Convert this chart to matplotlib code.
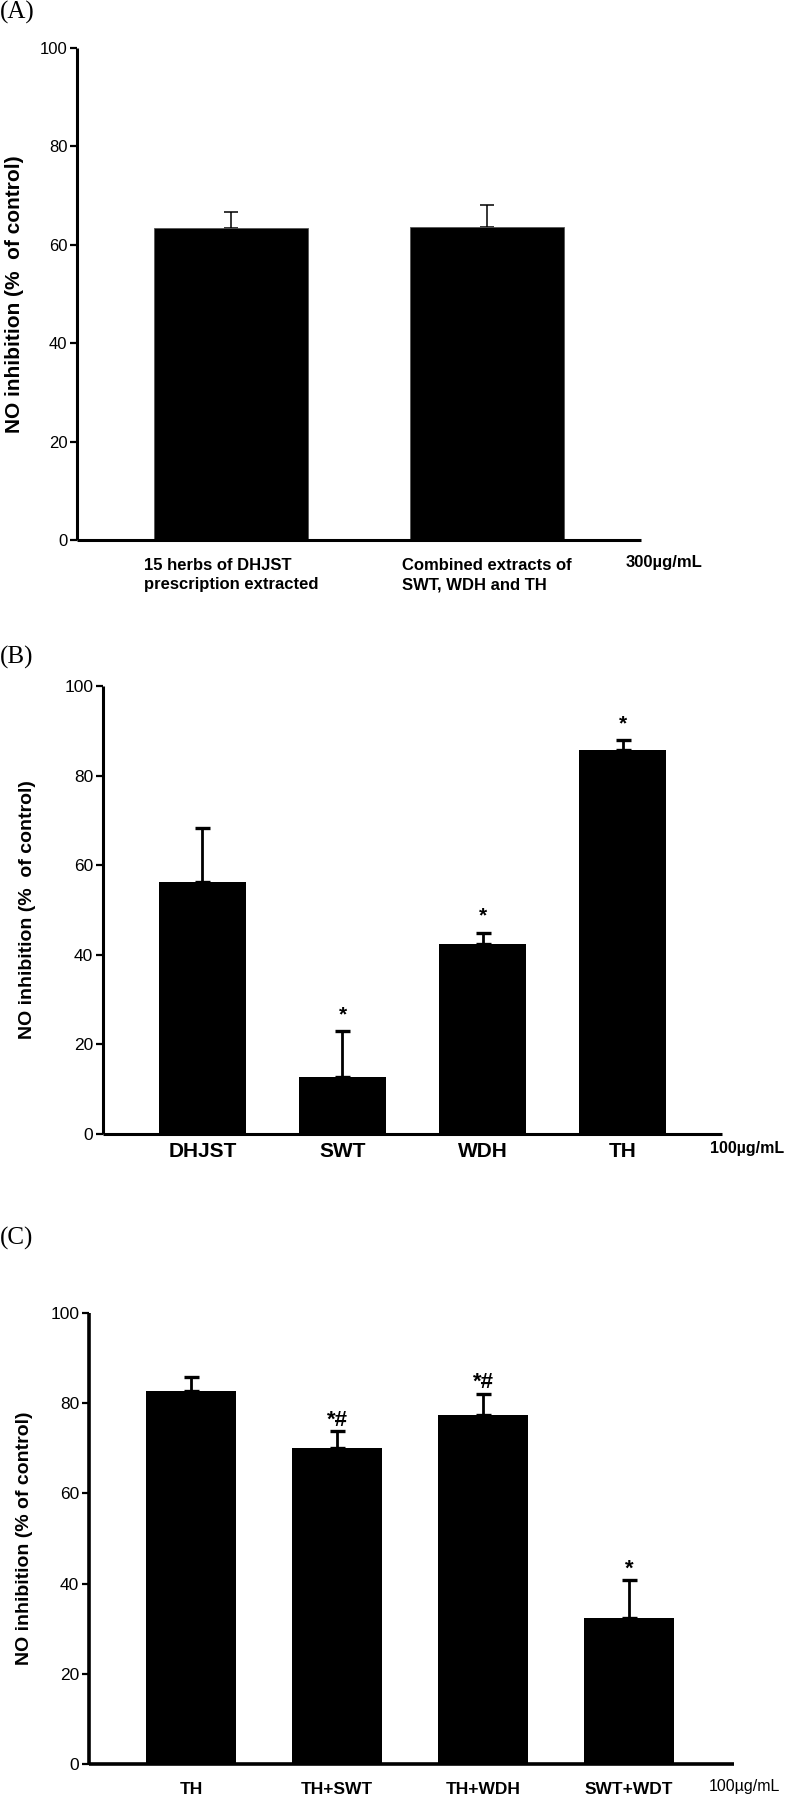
import matplotlib
matplotlib.use("Agg")
import matplotlib.pyplot as plt
import numpy as np

# ---------------- data ----------------
a_labels = ["15 herbs of DHJST\nprescription extracted", "Combined extracts of\nSWT, WDH and TH"]
a_values = [63.5, 63.7]
a_errors = [3.1, 4.4]

b_labels = ["DHJST", "SWT", "WDH", "TH"]
b_values = [56.2, 12.7, 42.5, 85.7]
b_errors = [12.1, 10.2, 2.4, 2.2]
b_marks = ["", "*", "*", "*"]

c_labels = ["TH", "TH+SWT", "TH+WDH", "SWT+WDT"]
c_values = [82.8, 70.0, 77.4, 32.3]
c_errors = [3.0, 3.8, 4.7, 8.5]
c_marks = ["", "*#", "*#", "*"]

y_ticks = [0, 20, 40, 60, 80, 100]

# ---------------- fonts ----------------
SANS = ["Liberation Sans", "DejaVu Sans"]
SERIF = ["Liberation Serif", "DejaVu Serif"]
plt.rcParams["font.family"] = SANS

W, H = 787, 1795
fig = plt.figure(figsize=(W / 100, H / 100), dpi=100)


def px_axes(l, t, r, b):
    return fig.add_axes([l / W, 1 - b / H, (r - l) / W, (b - t) / H])


def style_axes(ax, xlim, ticksize, spine_w=2.2):
    for s in ("top", "right"):
        ax.spines[s].set_visible(False)
    for s in ("left", "bottom"):
        ax.spines[s].set_linewidth(spine_w)
        ax.spines[s].set_capstyle("butt")
    ax.set_ylim(0, 100)
    ax.set_xlim(*xlim)
    ax.set_yticks(y_ticks)
    ax.tick_params(axis="y", direction="out", length=5, width=1.6, pad=2,
                   labelsize=ticksize)
    ax.tick_params(axis="x", length=0)


def fig_text(xpx, ypx, s, **kw):
    fig.text(xpx / W, 1 - ypx / H, s, **kw)


# ---------------- panel A ----------------
axA = px_axes(77, 48, 641, 540)
xa = np.arange(len(a_values))
axA.bar(xa, a_values, width=0.6, color="black", edgecolor="#555555", linewidth=0.6, zorder=2)
axA.errorbar(xa, a_values, yerr=[np.zeros(len(a_errors)), a_errors], fmt="none",
             ecolor="black", elinewidth=1.1, capsize=4.7, capthick=1.1, zorder=1)
style_axes(axA, (-0.6, 1.6), 12)
axA.set_xticks(xa)
axA.set_xticklabels(a_labels, fontweight="bold", fontsize=12, linespacing=1.35)
for lab in axA.get_xticklabels():
    lab.set_multialignment("left")
axA.tick_params(axis="x", pad=13)
axA.set_ylabel("NO inhibition (%  of control)", fontweight="bold", fontsize=15)
axA.yaxis.set_label_coords(-53 / 564, 0.5)
fig_text(626, 563, "300µg/mL", fontweight="bold", fontsize=12, ha="left", va="center")
fig_text(0, 12, "(A)", family=SERIF, fontsize=18, ha="left", va="center")

# ---------------- panel B ----------------
axB = px_axes(103, 686, 722, 1134)
xb = np.arange(len(b_values))
axB.bar(xb, b_values, width=0.62, color="black", zorder=2)
axB.errorbar(xb, b_values, yerr=[np.zeros(len(b_errors)), b_errors], fmt="none",
             ecolor="black", elinewidth=2.0, capsize=5.4, capthick=2.4, zorder=1)
style_axes(axB, (-0.71, 3.71), 12.5)
axB.set_xticks(xb)
axB.set_xticklabels(b_labels, fontweight="bold", fontsize=15)
axB.tick_params(axis="x", pad=6)
for xi, v, e, m in zip(xb, b_values, b_errors, b_marks):
    if m:
        axB.annotate(m, xy=(xi, v + e), xytext=(0, 8), textcoords="offset points",
                     ha="center", va="baseline", fontweight="bold", fontsize=15)
axB.set_ylabel("NO inhibition (%  of control)", fontweight="bold", fontsize=14)
axB.yaxis.set_label_coords(-67 / 619, 0.5)
fig_text(710, 1149, "100µg/mL", fontweight="bold", fontsize=11.5, ha="left", va="center")
fig_text(0, 657, "(B)", family=SERIF, fontsize=18, ha="left", va="center")

# ---------------- panel C ----------------
axC = px_axes(89, 1313, 734, 1764)
xc = np.arange(len(c_values))
axC.bar(xc, c_values, width=0.62, color="black", zorder=2)
axC.errorbar(xc, c_values, yerr=[np.zeros(len(c_errors)), c_errors], fmt="none",
             ecolor="black", elinewidth=2.0, capsize=5.4, capthick=2.4, zorder=1)
style_axes(axC, (-0.70, 3.72), 12.5, spine_w=2.6)
axC.set_xticks(xc)
axC.set_xticklabels(c_labels, fontweight="bold", fontsize=12.5)
axC.tick_params(axis="x", pad=13)
for xi, v, e, m in zip(xc, c_values, c_errors, c_marks):
    if m:
        axC.annotate(m, xy=(xi, v + e), xytext=(0, 4), textcoords="offset points",
                     ha="center", va="baseline", fontweight="bold", fontsize=16)
axC.set_ylabel("NO inhibition (% of control)", fontweight="bold", fontsize=14)
axC.yaxis.set_label_coords(-56 / 645, 0.5)
fig_text(709, 1787, "100µg/mL", fontsize=11.5, ha="left", va="center")
fig_text(0, 1238, "(C)", family=SERIF, fontsize=18, ha="left", va="center")

fig.savefig("out.png", dpi=100, facecolor="white")
